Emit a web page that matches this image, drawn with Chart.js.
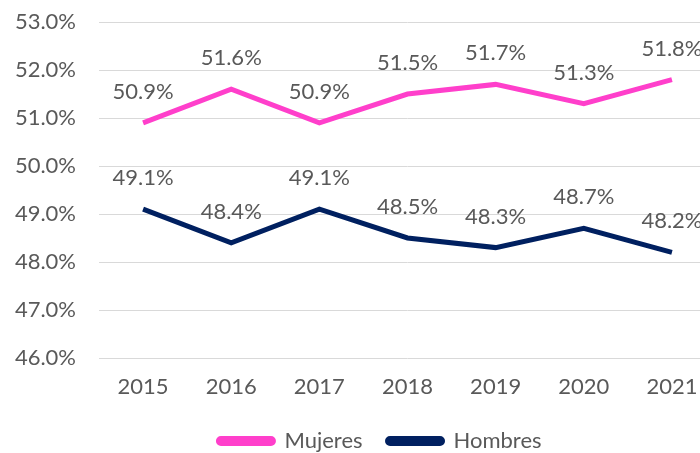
<!DOCTYPE html>
<html><head><meta charset="utf-8">
<script src="https://cdn.jsdelivr.net/npm/chart.js@4/dist/chart.umd.min.js"></script>
<style>
html,body{margin:0;padding:0;background:#fff;overflow:hidden;width:700px;height:453px}
#wrap{width:716px;height:453px;position:relative;overflow:hidden}
</style></head><body>
<div id="wrap"><canvas id="c" width="716" height="462"></canvas></div>
<script>
const years = ['2015','2016','2017','2018','2019','2020','2021'];
const mujeres = [50.9, 51.6, 50.9, 51.5, 51.7, 51.3, 51.8];
const hombres = [49.1, 48.4, 49.1, 48.5, 48.3, 48.7, 48.2];
const FONT = 'Lato';
const FS = 22;
const TXT = '#595959';

const labelPlugin = {
  id: 'valLabels',
  afterLayout(chart) {
    if (chart.legend) { chart.legend.left += 22; chart.legend.right += 22; }
  },
  afterDatasetsDraw(chart) {
    const ctx = chart.ctx;
    ctx.save();
    ctx.font = FS + 'px ' + FONT;
    ctx.fillStyle = TXT;
    ctx.textAlign = 'center';
    ctx.textBaseline = 'middle';
    chart.data.datasets.forEach((ds, i) => {
      const meta = chart.getDatasetMeta(i);
      meta.data.forEach((pt, j) => {
        ctx.fillText(ds.data[j].toFixed(1) + '%', pt.x, pt.y - 31);
      });
    });
    ctx.restore();
  }
};

new Chart(document.getElementById('c'), {
  type: 'line',
  data: {
    labels: years,
    datasets: [
      { label: 'Mujeres', data: mujeres, borderColor: '#FF3FCB', backgroundColor: '#FF3FCB', borderWidth: 5, pointRadius: 0, tension: 0 },
      { label: 'Hombres', data: hombres, borderColor: '#002060', backgroundColor: '#002060', borderWidth: 5, pointRadius: 0, tension: 0 }
    ]
  },
  options: {
    responsive: false,
    animation: false,
    layout: { padding: { top: 22, right: 0, left: 0, bottom: 0 } },
    plugins: {
      legend: {
        position: 'bottom',
        labels: { boxWidth: 55, boxHeight: 5, useBorderRadius: true, borderRadius: 2.5,
          color: TXT, font: { family: FONT, size: FS }, padding: 25 }
      },
      tooltip: { enabled: false }
    },
    scales: {
      x: {
        offset: true,
        afterFit(s) { s.height = 47; s.paddingLeft = 0; s.paddingRight = 0; },
        grid: { display: false },
        border: { display: false },
        ticks: { color: TXT, font: { family: FONT, size: FS }, padding: 8 }
      },
      y: {
        min: 46, max: 53,
        afterFit(s) { s.width = 99; s.paddingTop = 0; s.paddingBottom = 0; },
        grid: { color: '#d9d9d9', lineWidth: 1, drawTicks: false },
        border: { display: false },
        ticks: { stepSize: 1, color: TXT, font: { family: FONT, size: FS }, padding: 23,
          callback: v => v.toFixed(1) + '%' }
      }
    }
  },
  plugins: [labelPlugin]
});
</script>
</body></html>
